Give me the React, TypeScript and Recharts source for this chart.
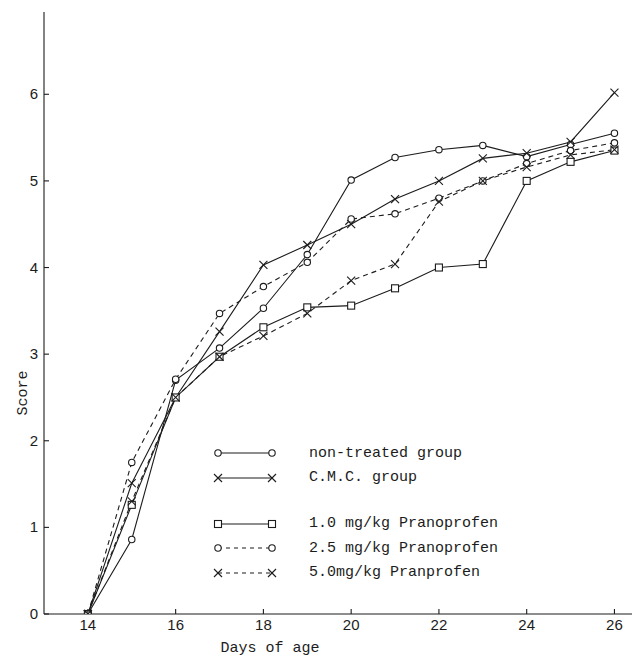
import * as React from "react"
import { Line, LineChart, XAxis, YAxis } from "recharts"

// days on the x axis
const days = [14, 15, 16, 17, 18, 19, 20, 21, 22, 23, 24, 25, 26]

// scores
const nonTreated = [0, 0.86, 2.7, 3.07, 3.53, 4.15, 5.01, 5.27, 5.36, 5.41, 5.28, 5.42, 5.55]
const cmcGroup = [0, 1.51, 2.5, 3.26, 4.03, 4.26, 4.5, 4.79, 5.0, 5.26, 5.32, 5.45, 6.02]
const prano10 = [0, 1.26, 2.5, 2.97, 3.31, 3.54, 3.56, 3.76, 4.0, 4.04, 5.0, 5.22, 5.35]
const prano25 = [0, 1.75, 2.71, 3.47, 3.78, 4.06, 4.56, 4.62, 4.8, 5.0, 5.2, 5.35, 5.44]
const prano50 = [0, 1.3, 2.5, 2.97, 3.21, 3.47, 3.85, 4.04, 4.76, 5.0, 5.16, 5.3, 5.36]

const xTicks = [14, 16, 18, 20, 22, 24, 26]
const yTicks = [0, 1, 2, 3, 4, 5, 6]

const INK = "#1c1c1c"
const MONO = "'Liberation Mono', monospace"
const SANS = "'Liberation Sans', Arial, sans-serif"

type Marker = "circle" | "cross" | "square"

interface SeriesDef {
  key: string
  label: string
  marker: Marker
  dashed: boolean
}

const series: SeriesDef[] = [
  { key: "nonTreated", label: "non-treated group", marker: "circle", dashed: false },
  { key: "cmc", label: "C.M.C. group", marker: "cross", dashed: false },
  { key: "p10", label: "1.0 mg/kg Pranoprofen", marker: "square", dashed: false },
  { key: "p25", label: "2.5 mg/kg Pranoprofen", marker: "circle", dashed: true },
  { key: "p50", label: "5.0mg/kg Pranprofen", marker: "cross", dashed: true },
]

const data = days.map((day, i) => ({
  day,
  nonTreated: nonTreated[i],
  cmc: cmcGroup[i],
  p10: prano10[i],
  p25: prano25[i],
  p50: prano50[i],
}))

const drawMarker = (marker: Marker, cx: number, cy: number, key?: string) => {
  if (marker === "circle") {
    return <circle key={key} cx={cx} cy={cy} r={3.2} fill="#fff" stroke={INK} strokeWidth={1.1} />
  }
  if (marker === "square") {
    return (
      <rect key={key} x={cx - 3.5} y={cy - 3.5} width={7} height={7} fill="#fff" stroke={INK} strokeWidth={1.1} />
    )
  }
  return (
    <g key={key}>
      <line x1={cx - 4} y1={cy - 4} x2={cx + 4} y2={cy + 4} stroke={INK} strokeWidth={1.1} />
      <line x1={cx - 4} y1={cy + 4} x2={cx + 4} y2={cy - 4} stroke={INK} strokeWidth={1.1} />
    </g>
  )
}

const XTick = (props: any) => {
  const { x, y, payload } = props
  return (
    <g>
      <line x1={x} y1={y} x2={x} y2={y - 5} stroke={INK} strokeWidth={1.1} />
      <text x={x} y={y + 16} textAnchor="middle" fontFamily={SANS} fontSize={15} fill={INK}>
        {payload.value}
      </text>
    </g>
  )
}

const YTick = (props: any) => {
  const { x, y, payload } = props
  return (
    <g>
      <line x1={x} y1={y} x2={x + 5} y2={y} stroke={INK} strokeWidth={1.1} />
      <text x={x - 6} y={y + 5} textAnchor="end" fontFamily={SANS} fontSize={15} fill={INK}>
        {payload.value}
      </text>
    </g>
  )
}

const renderXLabel = () => (
  <text x={270} y={652} textAnchor="middle" fontFamily={MONO} fontSize={15} fill={INK}>
    Days of age
  </text>
)

const renderYLabel = () => (
  <text
    x={23}
    y={393}
    textAnchor="middle"
    dominantBaseline="central"
    transform="rotate(-90, 23, 393)"
    fontFamily={MONO}
    fontSize={15}
    fill={INK}
  >
    Score
  </text>
)

// legend sits inside the plot, lower right
const Legend = () => {
  let top = 444
  return (
    <div style={{ position: "absolute", left: 210, top: 0 }}>
      {series.map((s, i) => {
        if (i === 2) top += 21.5
        const rowTop = top
        top += 24.5
        return (
          <div
            key={s.key}
            style={{ position: "absolute", top: rowTop, left: 0, display: "flex", alignItems: "center", height: 18, whiteSpace: "nowrap" }}
          >
            <svg width={70} height={18}>
              <line
                x1={8}
                y1={9}
                x2={62}
                y2={9}
                stroke={INK}
                strokeWidth={1.1}
                strokeDasharray={s.dashed ? "4 4" : undefined}
              />
              {drawMarker(s.marker, 8, 9)}
              {drawMarker(s.marker, 62, 9)}
            </svg>
            <span style={{ marginLeft: 29, fontFamily: MONO, fontSize: 15, color: INK }}>{s.label}</span>
          </div>
        )
      })}
    </div>
  )
}

export default function App() {
  return (
    <div style={{ position: "absolute", left: 0, top: 0, width: 633, height: 656, background: "#fff" }}>
      <LineChart width={633} height={656} data={data} margin={{ top: 12, right: 1, bottom: 0, left: 0 }}>
        <XAxis
          dataKey="day"
          type="number"
          domain={[13, 26.4]}
          ticks={xTicks}
          allowDataOverflow
          height={42}
          tickSize={0}
          tickMargin={0}
          tickLine={false}
          tick={XTick}
          axisLine={{ stroke: INK, strokeWidth: 1.1 }}
          label={renderXLabel}
        />
        <YAxis
          type="number"
          domain={[0, 6.95]}
          ticks={yTicks}
          allowDataOverflow
          width={44}
          tickSize={0}
          tickMargin={0}
          tickLine={false}
          tick={YTick}
          axisLine={{ stroke: INK, strokeWidth: 1.1 }}
          label={renderYLabel}
        />
        {series.map((s) => (
          <Line
            key={s.key}
            dataKey={s.key}
            type="linear"
            stroke={INK}
            strokeWidth={1.1}
            strokeDasharray={s.dashed ? "5 4" : undefined}
            dot={(p: any) => drawMarker(s.marker, p.cx, p.cy, `${s.key}-${p.index}`)}
            activeDot={false}
            isAnimationActive={false}
          />
        ))}
      </LineChart>
      <Legend />
    </div>
  )
}
